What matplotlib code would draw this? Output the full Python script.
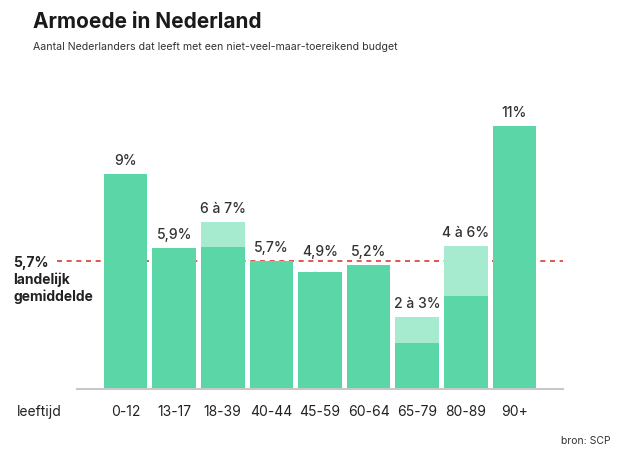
import matplotlib.pyplot as plt
import numpy as np

plt.rcParams["font.family"] = ["Inter", "DejaVu Sans"]

ages = ["0-12", "13-17", "18-39", "40-44", "45-59", "60-64", "65-79", "80-89", "90+"]
# lower (solid) part of each bar, as drawn in the picture
low = [9.0, 5.9, 5.95, 5.37, 4.9, 5.2, 1.93, 3.9, 11.0]
# upper end of a range, 0 where the value is a single number
high = [0, 0, 7.0, 0, 0, 0, 3.0, 6.0, 0]
labels = ["9%", "5,9%", "6 à 7%", "5,7%", "4,9%", "5,2%", "2 à 3%", "4 à 6%", "11%"]
avg = 5.37  # drawn level of the 5,7% line

dark = "#5bd6a6"
light = "#a6ebd0"

fig = plt.figure(figsize=(6.22, 4.6), dpi=100)
ax = fig.add_axes([77 / 622, 70 / 460, 486 / 622, 290 / 460])

x = np.arange(len(ages))
ax.bar(x, low, width=0.9, color=dark, zorder=2)
extra = [h - l if h else 0 for h, l in zip(high, low)]
ax.bar(x, extra, bottom=low, width=0.9, color=light, zorder=2)

tops = [max(h, l) for h, l in zip(high, low)]
for i, (xi, t, lab) in enumerate(zip(x, tops, labels)):
    off = 10 if lab == "4,9%" else 5  # lifted clear of the dashed line
    ax.annotate(lab, (xi, t), xytext=(0, off), textcoords="offset points",
                ha="center", va="bottom", fontsize=10, color="#333333",
                fontweight="medium", zorder=3)

ax.plot([-1.42, 9.0], [avg, avg], color="#d93a32", lw=1.2,
        linestyle=(0, (3, 2.8)), zorder=1, clip_on=False)

ax.set_xlim(-1.0, 9.0)
ax.set_ylim(0, 290 / 23.9)
for s in ["top", "right", "left"]:
    ax.spines[s].set_visible(False)
ax.spines["bottom"].set_color("#c8c8c8")
ax.spines["bottom"].set_linewidth(1.5)
ax.set_yticks([])
ax.set_xticks(x)
ax.set_xticklabels(ages, fontsize=10, color="#222222")
ax.tick_params(axis="x", length=0, pad=11)

fig.text(33 / 622, 1 - 22 / 460, "Armoede in Nederland", fontsize=15,
         fontweight="bold", color="#1a1a1a", va="center")
fig.text(33 / 622, 1 - 47 / 460,
         "Aantal Nederlanders dat leeft met een niet-veel-maar-toereikend budget",
         fontsize=7.6, color="#333333", va="center")
fig.text(13 / 622, 1 - 280 / 460, "5,7%\nlandelijk\ngemiddelde", fontsize=10,
         fontweight="bold", color="#222222", va="center", linespacing=1.25)
fig.text(17 / 622, 1 - 412 / 460, "leeftijd", fontsize=10, color="#222222",
         va="center")
fig.text(611 / 622, 1 - 441 / 460, "bron: SCP", fontsize=7.5, color="#333333",
         ha="right", va="center")

fig.savefig("out.png", dpi=100)
